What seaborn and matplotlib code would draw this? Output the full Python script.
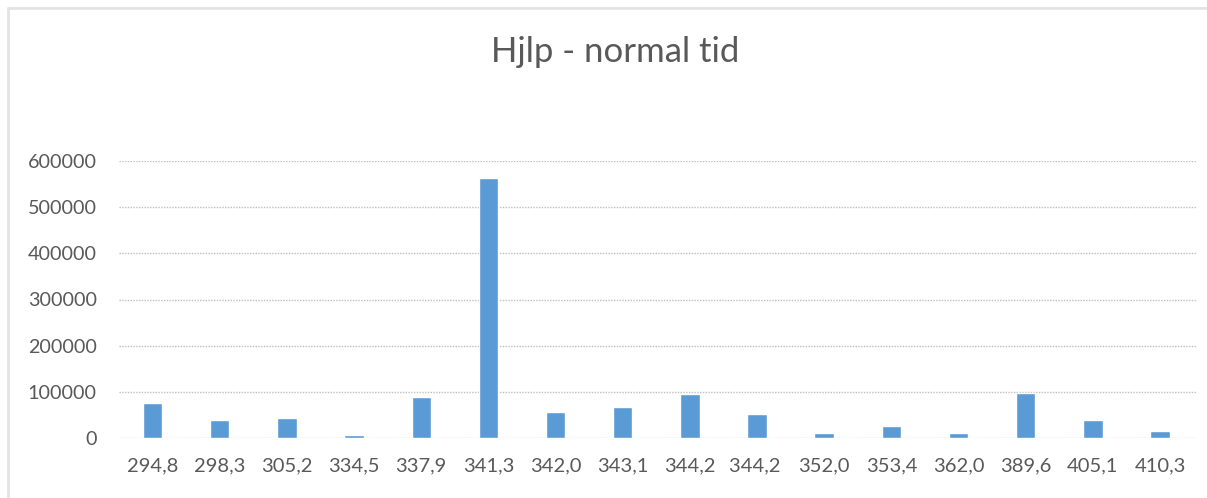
import matplotlib
matplotlib.use("Agg")
import matplotlib.pyplot as plt
import seaborn as sns
import pandas as pd
from matplotlib.lines import Line2D

# data
labels = ["294,8", "298,3", "305,2", "334,5", "337,9", "341,3", "342,0", "343,1",
          "344,2", "344,2 ", "352,0", "353,4", "362,0", "389,6", "405,1", "410,3"]
values = [75000, 38000, 43000, 6000, 89000, 564000, 56000, 66000,
          94000, 52000, 11000, 25000, 11000, 98000, 38000, 15000]
yticks = [0, 100000, 200000, 300000, 400000, 500000, 600000]
title = "Hjlp - normal tid"

sns.set_theme(style="white")
plt.rcParams['font.family'] = ['Lato', 'DejaVu Sans']

text_col = "#595959"
bar_col = "#5B9BD5"

df = pd.DataFrame({"label": labels, "value": values})

fig = plt.figure(figsize=(12.07, 4.98), dpi=100)
ax = fig.add_axes([119 / 1207, 1 - 437.7 / 498, 1078 / 1207, 276.4 / 498])

sns.barplot(data=df, x="label", y="value", color=bar_col, width=0.29,
            saturation=1, ax=ax, zorder=3)

ax.set_ylim(0, 600000)
ax.set_xlim(-0.5, len(labels) - 0.45)
ax.set_yticks(yticks)
ax.set_yticklabels([str(v) for v in yticks])
ax.set_xlabel("")
ax.set_ylabel("")
for s in ax.spines.values():
    s.set_visible(False)
ax.yaxis.grid(True, color="#BFBFBF", linestyle=(0, (1, 1)), linewidth=1, zorder=0)
ax.xaxis.grid(False)
ax.tick_params(axis="y", length=0, pad=16, labelsize=14.2, labelcolor=text_col)
ax.tick_params(axis="x", length=0, pad=14, labelsize=14.5, labelcolor=text_col)

fig.text(615 / 1207, 1 - 52 / 498, title, ha="center", va="center",
         fontsize=25, color=text_col)

# chart area frame (top and left edges visible)
fig.add_artist(Line2D([8 / 1207, 1], [1 - 8 / 498, 1 - 8 / 498], color="#E3E3E3", lw=2))
fig.add_artist(Line2D([8 / 1207, 8 / 1207], [0, 1 - 8 / 498], color="#E3E3E3", lw=2))

fig.savefig("out.png", dpi=100)
